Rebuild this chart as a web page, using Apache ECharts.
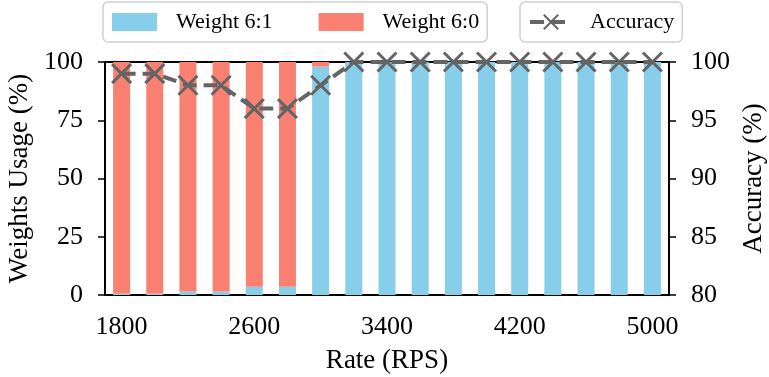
<!DOCTYPE html>
<html>
<head>
<meta charset="utf-8">
<script src="https://cdn.jsdelivr.net/npm/echarts@6/dist/echarts.min.js"></script>
<style>html,body{margin:0;padding:0;background:#fff;}#c{width:769px;height:377px;}</style>
</head>
<body>
<div id="c"></div>
<script>
var categories = ['1800','2000','2200','2400','2600','2800','3000','3200','3400','3600','3800','4000','4200','4400','4600','4800','5000'];
var weight61 = [0.5,0.5,1.5,1.5,3.5,3.5,98,100,100,100,100,100,100,100,100,100,100];
var weight60 = [99.5,99.5,98.5,98.5,96.5,96.5,2,0,0,0,0,0,0,0,0,0,0];
var accuracy = [99,99,98,98,96,96,98,100,100,100,100,100,100,100,100,100,100];
var leftTicks = [0,25,50,75,100];
var rightTicks = [80,85,90,95,100];

var FONT = 'Liberation Serif';
var chart = echarts.init(document.getElementById('c'));
var xPath = 'path://M0,0L10,10M10,0L0,10';
chart.setOption({
  animation: false,
  textStyle: {fontFamily: FONT, color: '#000'},
  grid: {left: 105, right: 100, top: 62, bottom: 82, outerBoundsMode: 'none', containLabel: false, show: true, borderColor: '#000', borderWidth: 2, backgroundColor: 'transparent'},
  legend: [
    {
      data: ['Weight 6:1', 'Weight 6:0'],
      left: 103, top: 2,
      orient: 'horizontal',
      icon: 'rect',
      itemWidth: 45, itemHeight: 18, itemGap: 46,
      padding: [9, 8, 9, 9],
      borderColor: '#d0d0d0', borderWidth: 1.5, borderRadius: 5,
      textStyle: {fontFamily: FONT, fontSize: 22, color: '#000', padding: [0, 0, 0, 14], lineHeight: 22}
    },
    {
      data: ['Accuracy'],
      left: 520, top: 2,
      itemWidth: 42, itemHeight: 18,
      padding: [9, 8, 9, 8],
      borderColor: '#d0d0d0', borderWidth: 1.5, borderRadius: 5,
      lineStyle: {width: 4},
      textStyle: {fontFamily: FONT, fontSize: 22, color: '#000', padding: [0, 0, 0, 13], lineHeight: 22}
    }
  ],
  xAxis: {
    type: 'category',
    data: categories,
    boundaryGap: true,
    name: 'Rate (RPS)', nameLocation: 'middle', nameGap: 52,
    nameTextStyle: {fontFamily: FONT, fontSize: 27, color: '#000'},
    axisLine: {lineStyle: {color: '#000', width: 2}},
    axisTick: {alignWithLabel: true, interval: 3, length: 7, lineStyle: {color: '#000', width: 1.5}},
    axisLabel: {interval: 3, fontFamily: FONT, fontSize: 26, color: '#000', margin: 19}
  },
  yAxis: [
    {
      type: 'value', min: leftTicks[0], max: leftTicks[leftTicks.length-1], interval: 25,
      name: 'Weights Usage (%)', nameLocation: 'middle', nameGap: 62, nameRotate: 90,
      nameTextStyle: {fontFamily: FONT, fontSize: 27, color: '#000'},
      axisLine: {show: true, lineStyle: {color: '#000', width: 2}},
      axisTick: {show: true, length: 7, lineStyle: {color: '#000', width: 1.5}},
      axisLabel: {fontFamily: FONT, fontSize: 26, color: '#000', margin: 22},
      splitLine: {show: false}
    },
    {
      type: 'value', min: rightTicks[0], max: rightTicks[rightTicks.length-1], interval: 5,
      position: 'right',
      name: 'Accuracy (%)', nameLocation: 'middle', nameGap: 66, nameRotate: 90,
      nameTextStyle: {fontFamily: FONT, fontSize: 27, color: '#000'},
      axisLine: {show: true, lineStyle: {color: '#000', width: 2}},
      axisTick: {show: true, length: 7, lineStyle: {color: '#000', width: 1.5}},
      axisLabel: {fontFamily: FONT, fontSize: 26, color: '#000', margin: 22},
      splitLine: {show: false}
    }
  ],
  series: [
    {name: 'Weight 6:1', type: 'bar', stack: 'w', data: weight61, barWidth: 17, itemStyle: {color: '#87CEEB'}},
    {name: 'Weight 6:0', type: 'bar', stack: 'w', data: weight60, barWidth: 17, itemStyle: {color: '#FA8072'}},
    {
      name: 'Accuracy', type: 'line', yAxisIndex: 1, data: accuracy,
      symbol: xPath, symbolSize: 19,
      lineStyle: {color: '#646464', width: 4, type: [14, 7]},
      itemStyle: {color: '#646464', borderColor: '#646464', borderWidth: 3},
      z: 5
    }
  ]
});
</script>
</body>
</html>
